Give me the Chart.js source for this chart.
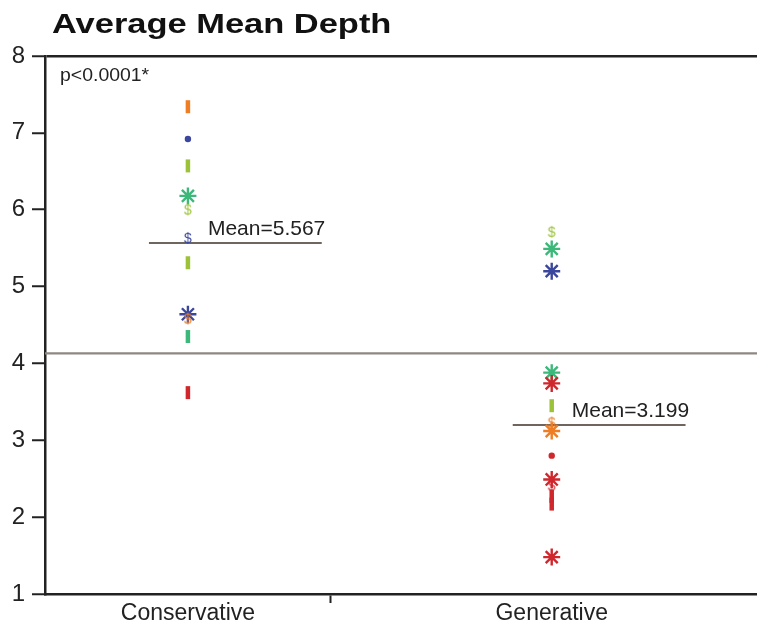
<!DOCTYPE html>
<html>
<head>
<meta charset="utf-8">
<script src="https://cdn.jsdelivr.net/npm/chart.js@4/dist/chart.umd.min.js"></script>
<style>
  html, body { margin: 0; padding: 0; background: #ffffff; }
  canvas { display: block; }
</style>
</head>
<body>
<canvas id="depthChart" width="757" height="630"></canvas>
<script>
// Group labels and sample sizes (x axis width is proportional to group size)
const groups = ['Conservative', 'Generative'];
const groupSizes = [11, 17];
const groupMeans = [5.567, 3.199];
const grandMean = 4.13;
const pValueText = 'p<0.0001*';

// Conservative observations
const consValues = [7.34, 6.92, 6.57, 6.18, 5.99, 5.62, 5.31, 4.64, 4.57, 4.35, 3.62];
const consMarkers = ['dash', 'dot', 'dash', 'star', 'dollar', 'dollar', 'dash', 'star', 'dollar', 'dash', 'dash'];
const consColors = ['orange', 'blue', 'lime', 'green', 'lime', 'blue', 'lime', 'blue', 'orange', 'green', 'red'];

// Generative observations
const genValues = [5.70, 5.49, 5.20, 3.88, 3.74, 3.45, 3.22, 3.12, 2.80, 2.49, 2.40, 2.27, 2.17, 1.48];
const genMarkers = ['dollar', 'star', 'star', 'star', 'star', 'dash', 'dollar', 'star', 'dot', 'star', 'dollar', 'dash', 'dash', 'star'];
const genColors = ['lime', 'green', 'blue', 'green', 'red', 'lime', 'orange', 'orange', 'red', 'red', 'red', 'red', 'red', 'red'];

const yTicks = [1, 2, 3, 4, 5, 6, 7, 8];

const palette = {
  orange: '#ee7d23',
  blue: '#3b479c',
  lime: '#9cc23a',
  green: '#3db87b',
  red: '#d0272d'
};

const FONT = "'Liberation Sans', Arial, sans-serif";

document.addEventListener('DOMContentLoaded', () => {
  // group boundaries along the x axis
  const consEnd = groupSizes[0];
  const genEnd = groupSizes[0] + groupSizes[1];
  const centers = [consEnd / 2, (consEnd + genEnd) / 2];

  // little "$" glyph markers
  const dollarCache = {};
  function dollarMarker(color) {
    if (dollarCache[color]) return dollarCache[color];
    const c = document.createElement('canvas');
    c.width = 12;
    c.height = 16;
    const g = c.getContext('2d');
    g.fillStyle = color;
    g.font = '14px ' + FONT;
    g.textAlign = 'center';
    g.textBaseline = 'middle';
    g.fillText('$', 6, 8.5);
    dollarCache[color] = c;
    return c;
  }

  function markerSize(m) {
    return m === 'dash' ? 6.5 : m === 'dot' ? 3.2 : m === 'star' ? 8.5 : 7;
  }

  function pointOpts(markers, colors) {
    return {
      pointStyle: markers.map((m, i) => {
        if (m === 'dash') return 'line';
        if (m === 'dot') return 'circle';
        if (m === 'star') return 'star';
        return dollarMarker(palette[colors[i]]);
      }),
      pointRadius: markers.map(markerSize),
      pointHoverRadius: markers.map(markerSize),
      pointRotation: markers.map(m => m === 'dash' ? 90 : 0),
      pointBorderWidth: markers.map(m => m === 'dash' ? 4.5 : m === 'star' ? 2.4 : 0),
      pointBorderColor: colors.map(c => palette[c]),
      pointBackgroundColor: colors.map(c => palette[c])
    };
  }

  // mean line extends a little left and further right of the group center
  function meanLine(idx) {
    return [
      { x: centers[idx] - 1.5, y: groupMeans[idx] },
      { x: centers[idx] + 5.15, y: groupMeans[idx] }
    ];
  }

  const textPlugin = {
    id: 'annotations',
    afterDraw(chart) {
      const ctx = chart.ctx;
      const xs = chart.scales.x;
      const ys = chart.scales.y;
      ctx.save();
      ctx.fillStyle = '#111';
      ctx.textAlign = 'left';
      ctx.textBaseline = 'alphabetic';

      // title
      ctx.save();
      ctx.translate(52, 33);
      ctx.scale(1.23, 1);
      ctx.font = 'bold 28px ' + FONT;
      ctx.fillText('Average Mean Depth', 0, 0);
      ctx.restore();

      // p value
      ctx.save();
      ctx.fillStyle = '#222';
      ctx.translate(60, 81);
      ctx.scale(1.08, 1);
      ctx.font = '18px ' + FONT;
      ctx.fillText(pValueText, 0, 0);
      ctx.restore();

      // mean labels
      ctx.fillStyle = '#222';
      ctx.font = '21px ' + FONT;
      groupMeans.forEach((m, i) => {
        const px = xs.getPixelForValue(centers[i]) + 20;
        const py = ys.getPixelForValue(m) - 8;
        ctx.fillText('Mean=' + m.toFixed(3), px, py);
      });
      ctx.restore();
    }
  };

  const ctx = document.getElementById('depthChart').getContext('2d');
  new Chart(ctx, {
    type: 'scatter',
    data: {
      datasets: [
        {
          label: groups[0],
          data: consValues.map(v => ({ x: centers[0], y: v })),
          order: 1,
          ...pointOpts(consMarkers, consColors)
        },
        {
          label: groups[1],
          data: genValues.map(v => ({ x: centers[1], y: v })),
          order: 1,
          ...pointOpts(genMarkers, genColors)
        },
        {
          type: 'line',
          label: 'Grand mean',
          data: [{ x: 0, y: grandMean }, { x: genEnd, y: grandMean }],
          borderColor: '#8f8782',
          borderWidth: 2.2,
          pointRadius: 0,
          order: 3
        },
        {
          type: 'line',
          label: 'Mean ' + groups[0],
          data: meanLine(0),
          borderColor: '#6e655e',
          borderWidth: 2.2,
          pointRadius: 0,
          order: 2
        },
        {
          type: 'line',
          label: 'Mean ' + groups[1],
          data: meanLine(1),
          borderColor: '#6e655e',
          borderWidth: 2.2,
          pointRadius: 0,
          order: 2
        }
      ]
    },
    options: {
      responsive: false,
      animation: false,
      layout: { autoPadding: false, padding: { top: 56, right: 0, left: 0, bottom: 0 } },
      plugins: {
        legend: { display: false },
        tooltip: { enabled: false },
        title: { display: false }
      },
      scales: {
        x: {
          type: 'linear',
          min: 0,
          max: 27.4,
          afterBuildTicks: (scale) => {
            scale.ticks = [{ value: centers[0] }, { value: consEnd }, { value: centers[1] }];
          },
          afterFit: (scale) => {
            scale.height = 36;
            scale.paddingLeft = 0;
            scale.paddingRight = 0;
          },
          ticks: {
            autoSkip: false,
            maxRotation: 0,
            padding: -3,
            color: '#222',
            font: { family: FONT, size: 23 },
            callback: (value) => value === centers[0] ? groups[0] : value === centers[1] ? groups[1] : ''
          },
          grid: {
            drawOnChartArea: false,
            tickLength: 9,
            tickWidth: 2,
            tickColor: (c) => c.tick && c.tick.value === consEnd ? '#222' : 'rgba(0,0,0,0)'
          },
          border: { display: true, color: '#222', width: 2.5 }
        },
        y: {
          min: 1,
          max: 8,
          afterBuildTicks: (scale) => {
            scale.ticks = yTicks.map(v => ({ value: v }));
          },
          afterFit: (scale) => {
            scale.width = 45;
            scale.paddingTop = 0;
            scale.paddingBottom = 0;
          },
          ticks: {
            padding: 7,
            color: '#222',
            font: { family: FONT, size: 24 }
          },
          grid: {
            drawOnChartArea: true,
            tickLength: 13,
            tickWidth: 2,
            tickColor: '#222',
            lineWidth: 2.5,
            color: (c) => c.tick && c.tick.value === 8 ? '#222' : 'rgba(0,0,0,0)'
          },
          border: { display: true, color: '#222', width: 2.5 }
        }
      }
    },
    plugins: [textPlugin]
  });
});
</script>
</body>
</html>
